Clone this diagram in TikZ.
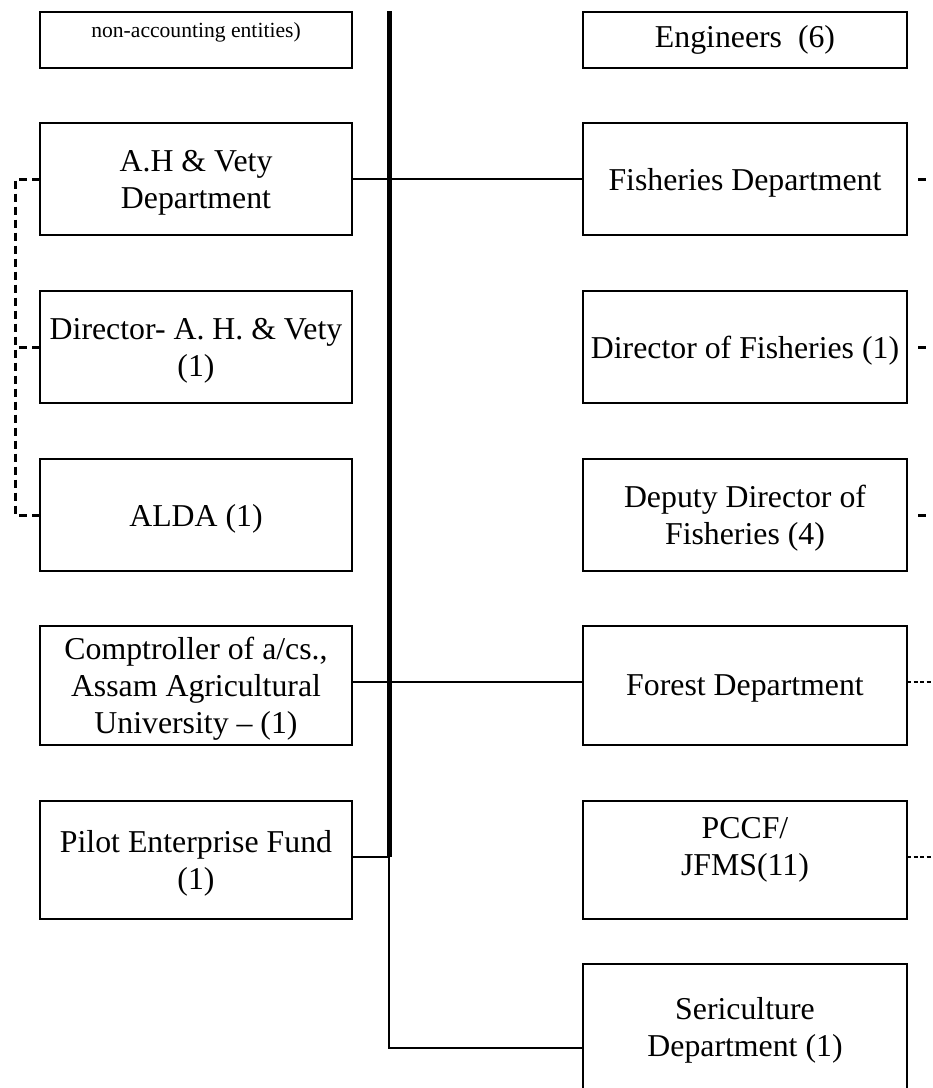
\documentclass[tikz,border=0pt]{standalone}
\usepackage{fontspec}
\setmainfont{Liberation Serif}
\begin{document}
\begin{tikzpicture}[x=1bp,y=-1bp,
  boxfont/.style={font=\fontsize{31.8bp}{37bp}\selectfont},
  box/.style={draw, line width=2bp, rectangle, inner sep=0pt, outer sep=0pt,
              align=center, boxfont},
  leftbox/.style={box, text depth=0pt, minimum width=312bp},
  rightbox/.style={box, text depth=0pt, minimum width=324bp},
  btext/.style={inner sep=0pt, align=center, boxfont},
  link/.style={line width=2bp},
  spine/.style={line width=5bp},
  ldash/.style={line width=3bp, dash pattern=on 8bp off 5bp},
  rshort/.style={line width=3bp, dash pattern=on 1bp off 10bp on 8bp off 40bp},
  rdense/.style={line width=2bp, dash pattern=on 4bp off 2.5bp}]
\useasboundingbox (0,0) rectangle (933,1088);
\clip (0,0) rectangle (933,1088);

% left column
\node[leftbox, minimum height=56bp]  (nonacc) at (196,40) {};
\node[inner sep=0pt, font=\fontsize{21.6bp}{26bp}\selectfont] (nonacctext) at (196,32) {non-accounting entities)};
\node[leftbox, minimum height=112bp] (ah)    at (196,179) {A.H \& Vety\\Department};
\node[leftbox, minimum height=112bp] (dir)   at (196,347) {Director- A. H. \& Vety\\(1)};
\node[leftbox, minimum height=112bp] (alda)  at (196,515) {ALDA (1)};
\node[leftbox, minimum height=119bp] (comp)  at (196,685.5) {Comptroller of a/cs.,\\Assam Agricultural\\University -- (1)};
\node[leftbox, minimum height=118bp] (pilot) at (196,860) {Pilot Enterprise Fund\\(1)};

% right column
\node[box, minimum width=324bp, minimum height=56bp] (eng) at (745,40) {Engineers~ (6)};
\node[rightbox, minimum height=112bp] (fish)   at (745,179) {Fisheries Department};
\node[rightbox, minimum height=112bp] (dfish)  at (745,347) {Director of Fisheries (1)};
\node[rightbox, minimum height=112bp] (ddfish) at (745,515) {Deputy Director of\\Fisheries (4)};
\node[rightbox, minimum height=119bp] (forest) at (745,685.5) {Forest Department};
\node[rightbox, minimum height=118bp] (pccf)   at (745,860) {};
\node[btext] (pccftext) at (745,850) {PCCF/\\JFMS(11)};
\node[rightbox, minimum height=126bp] (seri)   at (745,1027) {Sericulture\\Department (1)};

% central spine
\coordinate (spinetop) at (389,11);
\coordinate (spinebot) at (389,857);
\coordinate (redge) at (933,0);
\draw[spine] (spinetop) -- (spinebot);

% horizontal links
\draw[link] (ah.east) -- (fish.west);
\draw[link] (comp.east |- 0,682) -- (forest.west |- 0,682);
\draw[link] (pilot.east |- spinebot) -- (spinebot);
\draw[link] (spinebot) |- (seri.west |- 0,1048);

% dashed links on the left
\draw[ldash] (ah.west) -- ++(-24.5,0) |- (alda.west);
\draw[ldash] (dir.west) -- ++(-24.5,0);

% dashed stubs on the right
\draw[rshort] (fish.east) -- (fish.east -| redge);
\draw[rshort] (dfish.east) -- (dfish.east -| redge);
\draw[rshort] (ddfish.east) -- (ddfish.east -| redge);
\draw[rdense] (forest.east |- 0,682) -- (redge |- 0,682);
\draw[rdense] (pccf.east |- spinebot) -- (redge |- spinebot);
\end{tikzpicture}
\end{document}
